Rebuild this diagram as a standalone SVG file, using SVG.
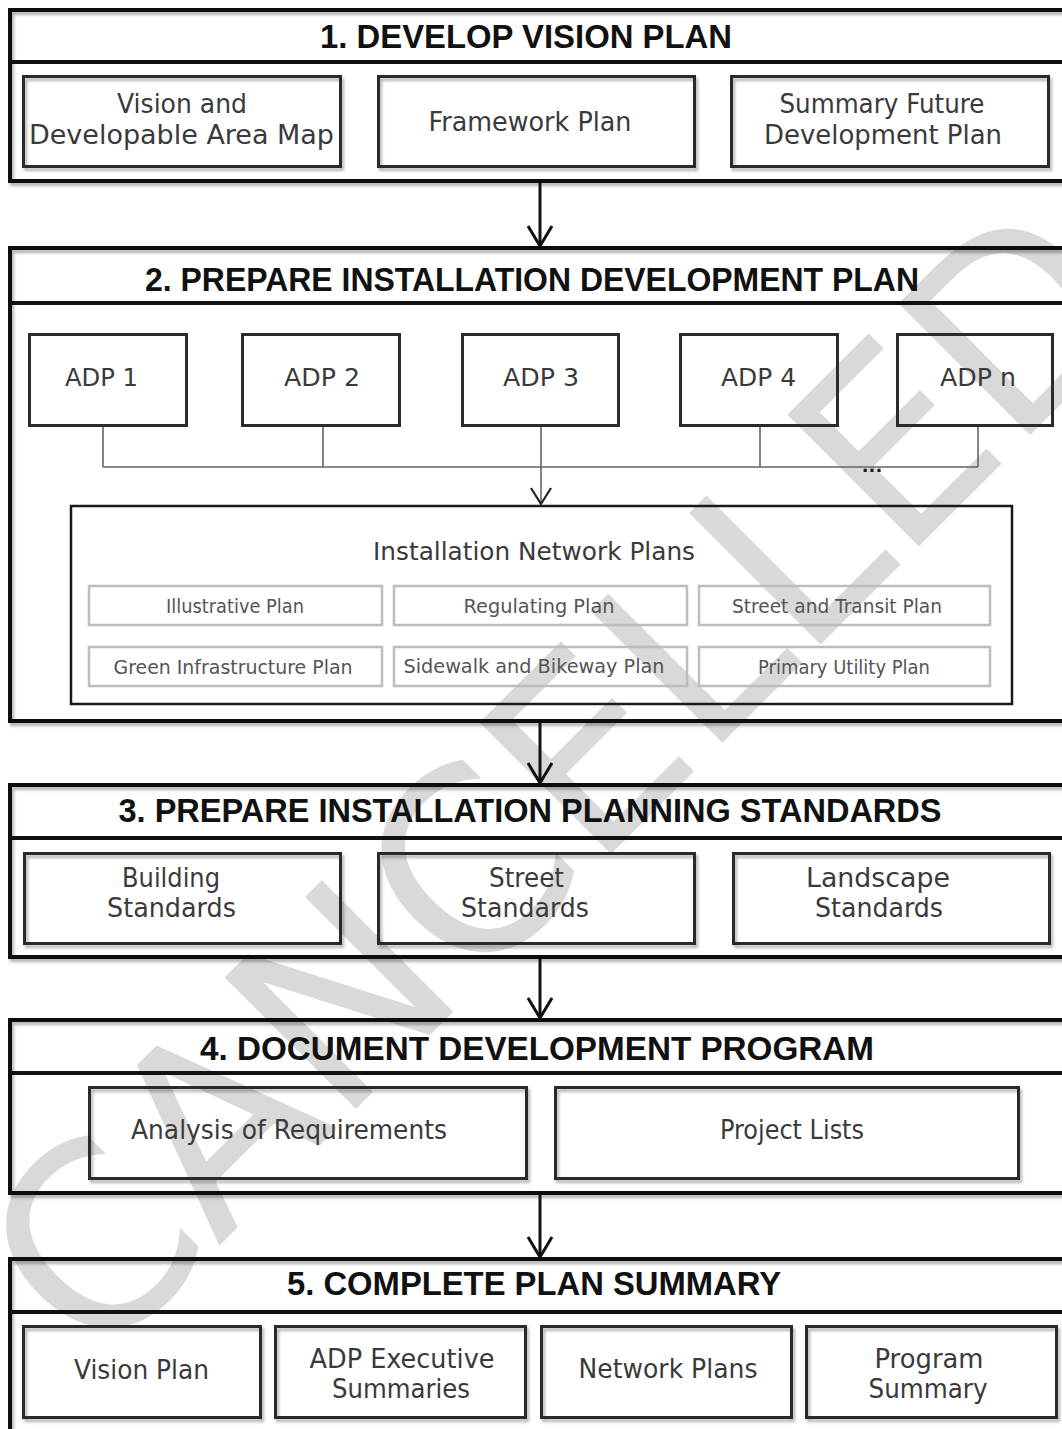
<svg xmlns="http://www.w3.org/2000/svg" width="1062" height="1429" viewBox="0 0 1062 1429">
<defs>
<style>
.sec{fill:none;stroke:#111;stroke-width:4}
.hdr{stroke:#111;stroke-width:4}
.box{fill:none;stroke:#2b2b2b;stroke-width:3}
.net{fill:none;stroke:#1a1a1a;stroke-width:2.5}
.sub{fill:none;stroke:#bdbdbd;stroke-width:2.5}
.title{font-family:"Liberation Sans",Arial,sans-serif;font-weight:bold;font-size:34px;fill:#111;text-anchor:middle}
.lbl{font-family:"DejaVu Sans","Liberation Sans",sans-serif;font-size:26px;fill:#3a3a3a;text-anchor:middle}
.mid{font-family:"DejaVu Sans","Liberation Sans",sans-serif;font-size:25px;fill:#3a3a3a;text-anchor:middle}
.small{font-family:"DejaVu Sans","Liberation Sans",sans-serif;font-size:19px;fill:#555;text-anchor:middle}
.conn{stroke:#666;stroke-width:1.6;fill:none}
.flow{stroke:#111;stroke-width:3;fill:none}
.wm{font-family:"DejaVu Sans","Liberation Sans",sans-serif;font-size:255px;fill:#d9d9d9}
</style>
<filter id="sh" x="-2%" y="-5%" width="104%" height="115%">
<feDropShadow dx="2" dy="3" stdDeviation="1.5" flood-color="#000" flood-opacity="0.3"/>
</filter>
<marker id="ah" viewBox="-3 -3 30 30" markerUnits="userSpaceOnUse" markerWidth="30" markerHeight="30" refX="22" refY="12" orient="auto">
<path d="M2,0 L22,12 L2,24" fill="none" stroke="#111" stroke-width="3"/>
</marker>
<marker id="ah2" viewBox="-3 -3 26 26" markerUnits="userSpaceOnUse" markerWidth="26" markerHeight="26" refX="18" refY="10" orient="auto">
<path d="M2,0 L18,10 L2,20" fill="none" stroke="#222" stroke-width="2.2"/>
</marker>
</defs>
<rect width="1062" height="1429" fill="#fff"/>

<g id="watermark">
<text class="wm" transform="translate(95,1370) rotate(-45)" textLength="1490" lengthAdjust="spacingAndGlyphs">CANCELLED</text>
</g>

<g id="sec1">
<rect class="sec" x="10" y="10" width="1062" height="171" filter="url(#sh)"/>
<line class="hdr" x1="10" y1="62" x2="1072" y2="62"/>
<text class="title" x="526" y="48" textLength="412" lengthAdjust="spacingAndGlyphs">1. DEVELOP VISION PLAN</text>
</g>
<g id="n-vision-map">
<rect class="box" x="23.5" y="76.5" width="317" height="90" filter="url(#sh)"/>
<text class="lbl" x="182" y="113" textLength="130" lengthAdjust="spacingAndGlyphs">Vision and</text>
<text class="lbl" x="181.5" y="144" textLength="305" lengthAdjust="spacingAndGlyphs">Developable Area Map</text>
</g>
<g id="n-framework">
<rect class="box" x="378.5" y="76.5" width="316" height="90" filter="url(#sh)"/>
<text class="lbl" x="530" y="131" textLength="203" lengthAdjust="spacingAndGlyphs">Framework Plan</text>
</g>
<g id="n-summary-future">
<rect class="box" x="731.5" y="76.5" width="317" height="90" filter="url(#sh)"/>
<text class="lbl" x="882" y="113" textLength="205" lengthAdjust="spacingAndGlyphs">Summary Future</text>
<text class="lbl" x="883" y="144" textLength="238" lengthAdjust="spacingAndGlyphs">Development Plan</text>
</g>

<g id="sec2">
<rect class="sec" x="10" y="248" width="1062" height="473" filter="url(#sh)"/>
<line class="hdr" x1="10" y1="303" x2="1072" y2="303"/>
<text class="title" x="532" y="291" textLength="774" lengthAdjust="spacingAndGlyphs">2. PREPARE INSTALLATION DEVELOPMENT PLAN</text>
</g>
<g id="n-adp1">
<rect class="box" x="29.5" y="334.5" width="157" height="91"/>
<text class="mid" x="101.5" y="386" textLength="73" lengthAdjust="spacingAndGlyphs">ADP 1</text>
</g>
<g id="n-adp2">
<rect class="box" x="242.5" y="334.5" width="157" height="91"/>
<text class="mid" x="322" y="386" textLength="76" lengthAdjust="spacingAndGlyphs">ADP 2</text>
</g>
<g id="n-adp3">
<rect class="box" x="462.5" y="334.5" width="156" height="91"/>
<text class="mid" x="541" y="386" textLength="76" lengthAdjust="spacingAndGlyphs">ADP 3</text>
</g>
<g id="n-adp4">
<rect class="box" x="680.5" y="334.5" width="157" height="91"/>
<text class="mid" x="758.5" y="386" textLength="75" lengthAdjust="spacingAndGlyphs">ADP 4</text>
</g>
<g id="n-adpn">
<rect class="box" x="897.5" y="334.5" width="155" height="91"/>
<text class="mid" x="978" y="386" textLength="76" lengthAdjust="spacingAndGlyphs">ADP n</text>
</g>
<g id="n-network">
<rect class="net" x="71" y="506" width="941" height="198"/>
<text class="mid" x="534" y="560" textLength="322" lengthAdjust="spacingAndGlyphs">Installation Network Plans</text>
</g>
<g id="n-illustrative">
<rect class="sub" x="89" y="586" width="293" height="39"/>
<text class="small" x="235" y="613" textLength="138" lengthAdjust="spacingAndGlyphs">Illustrative Plan</text>
</g>
<g id="n-regulating">
<rect class="sub" x="394" y="586" width="293" height="39"/>
<text class="small" x="539" y="613" textLength="151" lengthAdjust="spacingAndGlyphs">Regulating Plan</text>
</g>
<g id="n-street-transit">
<rect class="sub" x="699" y="586" width="291" height="39"/>
<text class="small" x="837" y="613" textLength="210" lengthAdjust="spacingAndGlyphs">Street and Transit Plan</text>
</g>
<g id="n-green">
<rect class="sub" x="89" y="647" width="293" height="39"/>
<text class="small" x="233" y="674" textLength="239" lengthAdjust="spacingAndGlyphs">Green Infrastructure Plan</text>
</g>
<g id="n-sidewalk">
<rect class="sub" x="394" y="647" width="293" height="39"/>
<text class="small" x="534" y="673" textLength="261" lengthAdjust="spacingAndGlyphs">Sidewalk and Bikeway Plan</text>
</g>
<g id="n-utility">
<rect class="sub" x="699" y="647" width="291" height="39"/>
<text class="small" x="844" y="674" textLength="172" lengthAdjust="spacingAndGlyphs">Primary Utility Plan</text>
</g>

<g id="sec3">
<rect class="sec" x="10" y="785" width="1062" height="172" filter="url(#sh)"/>
<line class="hdr" x1="10" y1="838" x2="1072" y2="838"/>
<text class="title" x="530" y="822" textLength="823" lengthAdjust="spacingAndGlyphs">3. PREPARE INSTALLATION PLANNING STANDARDS</text>
</g>
<g id="n-building">
<rect class="box" x="24.5" y="853.5" width="316" height="90" filter="url(#sh)"/>
<text class="lbl" x="171" y="887" textLength="98" lengthAdjust="spacingAndGlyphs">Building</text>
<text class="lbl" x="171.5" y="917" textLength="129" lengthAdjust="spacingAndGlyphs">Standards</text>
</g>
<g id="n-street-std">
<rect class="box" x="378.5" y="853.5" width="316" height="90" filter="url(#sh)"/>
<text class="lbl" x="526.5" y="887" textLength="75" lengthAdjust="spacingAndGlyphs">Street</text>
<text class="lbl" x="525" y="917" textLength="128" lengthAdjust="spacingAndGlyphs">Standards</text>
</g>
<g id="n-landscape">
<rect class="box" x="733.5" y="853.5" width="316" height="90" filter="url(#sh)"/>
<text class="lbl" x="878" y="887" textLength="144" lengthAdjust="spacingAndGlyphs">Landscape</text>
<text class="lbl" x="879" y="917" textLength="128" lengthAdjust="spacingAndGlyphs">Standards</text>
</g>

<g id="sec4">
<rect class="sec" x="10" y="1020" width="1062" height="173" filter="url(#sh)"/>
<line class="hdr" x1="10" y1="1073" x2="1072" y2="1073"/>
<text class="title" x="537" y="1060" textLength="674" lengthAdjust="spacingAndGlyphs">4. DOCUMENT DEVELOPMENT PROGRAM</text>
</g>
<g id="n-analysis">
<rect class="box" x="89.5" y="1087.5" width="437" height="91" filter="url(#sh)"/>
<text class="lbl" x="289" y="1139" textLength="316" lengthAdjust="spacingAndGlyphs">Analysis of Requirements</text>
</g>
<g id="n-projects">
<rect class="box" x="555.5" y="1087.5" width="463" height="91" filter="url(#sh)"/>
<text class="lbl" x="792" y="1139" textLength="144" lengthAdjust="spacingAndGlyphs">Project Lists</text>
</g>

<g id="sec5">
<rect class="sec" x="10" y="1259" width="1062" height="180" filter="url(#sh)"/>
<line class="hdr" x1="10" y1="1312" x2="1072" y2="1312"/>
<text class="title" x="534" y="1295" textLength="494" lengthAdjust="spacingAndGlyphs">5. COMPLETE PLAN SUMMARY</text>
</g>
<g id="n-vision-plan">
<rect class="box" x="23.5" y="1326.5" width="237" height="91" filter="url(#sh)"/>
<text class="lbl" x="141.5" y="1379" textLength="135" lengthAdjust="spacingAndGlyphs">Vision Plan</text>
</g>
<g id="n-adp-exec">
<rect class="box" x="275.5" y="1326.5" width="250" height="91" filter="url(#sh)"/>
<text class="lbl" x="402" y="1368" textLength="185" lengthAdjust="spacingAndGlyphs">ADP Executive</text>
<text class="lbl" x="401" y="1398" textLength="138" lengthAdjust="spacingAndGlyphs">Summaries</text>
</g>
<g id="n-network-plans">
<rect class="box" x="541.5" y="1326.5" width="250" height="91" filter="url(#sh)"/>
<text class="lbl" x="668" y="1378" textLength="179" lengthAdjust="spacingAndGlyphs">Network Plans</text>
</g>
<g id="n-program">
<rect class="box" x="806.5" y="1326.5" width="250" height="91" filter="url(#sh)"/>
<text class="lbl" x="929" y="1368" textLength="109" lengthAdjust="spacingAndGlyphs">Program</text>
<text class="lbl" x="928" y="1398" textLength="119" lengthAdjust="spacingAndGlyphs">Summary</text>
</g>

<g id="connectors">
<path class="conn" d="M103,427 V467 M323,427 V467 M760,427 V467 M978,427 V467 M103,467 H978"/>
<line class="conn" x1="541" y1="427" x2="541" y2="504" marker-end="url(#ah2)"/>
<text x="872" y="471.5" font-family="DejaVu Sans, sans-serif" font-weight="bold" font-size="18" fill="#222" text-anchor="middle">...</text>
<line class="flow" x1="540" y1="183" x2="540" y2="246" marker-end="url(#ah)"/>
<line class="flow" x1="540" y1="723" x2="540" y2="783" marker-end="url(#ah)"/>
<line class="flow" x1="540" y1="959" x2="540" y2="1018" marker-end="url(#ah)"/>
<line class="flow" x1="540" y1="1195" x2="540" y2="1257" marker-end="url(#ah)"/>
</g>
</svg>
